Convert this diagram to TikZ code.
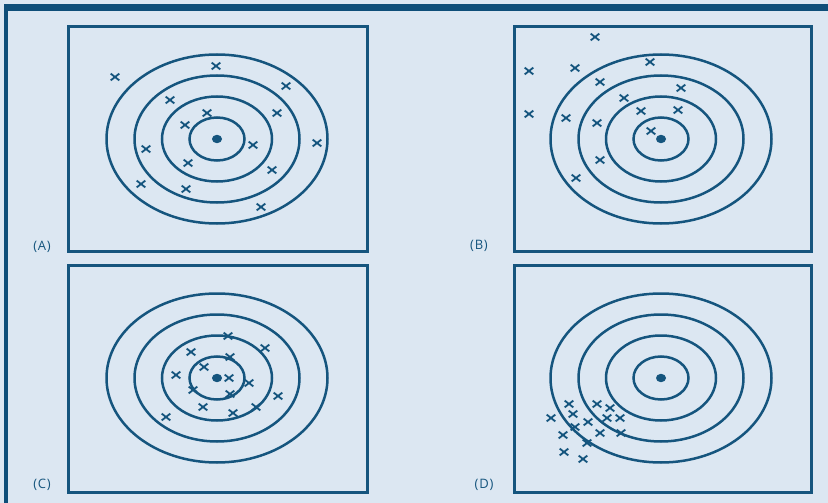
\documentclass[tikz,border=0pt]{standalone}
\usepackage{fontspec}
\setmainfont{Open Sans}
\newfontfamily\lblfont[LetterSpace=6]{Open Sans}
\definecolor{bgblue}{HTML}{DCE7F2}
\definecolor{barblue}{HTML}{0E4E79}
\definecolor{ink}{HTML}{15557E}
\tikzset{
  ring/.style={draw=ink, line width=2.5pt},
  panelbox/.style={draw=ink, line width=3pt},
  crossline/.style={draw=ink, line width=1.8pt},
  lbl/.style={font=\lblfont\fontsize{13}{15}\selectfont, text=ink, inner sep=0pt},
  xmark/.pic={\draw[crossline] (-4.3,-3.4) -- (4.3,3.4) (-4.3,3.4) -- (4.3,-3.4);},
  target/.pic={
    \foreach \a/\b in {27.5/21.5,55/42.5,82.5/63.5,110.5/84.5}
      \draw[ring] (0,0) ellipse [x radius=\a pt, y radius=\b pt];
    \fill[ink] (0,0) ellipse [x radius=5pt, y radius=4.2pt];
  }
}
\begin{document}
\begin{tikzpicture}[x=1pt,y=-1pt]
\useasboundingbox (0,0) rectangle (828,503);
\fill[bgblue] (0,0) rectangle (828,503);
\fill[barblue] (4,4) rectangle (828,11);
\fill[barblue] (4,4) rectangle (8,503);

% panel boxes
\draw[panelbox] (68,27) rectangle (367,251);
\draw[panelbox] (514,27) rectangle (811,251);
\draw[panelbox] (68,265) rectangle (367,492);
\draw[panelbox] (514,265) rectangle (811,492);

% targets
\pic at (217,139) {target};
\pic at (661,139) {target};
\pic at (217,378) {target};
\pic at (661,378) {target};

% labels
\node[lbl] (labA) at (42,247) {(A)};
\node[lbl] (labB) at (479,246) {(B)};
\node[lbl] (labC) at (42,485) {(C)};
\node[lbl] (labD) at (484,485) {(D)};

% shots A
\foreach \x/\y in {115/77,216/66,286/86,170/100,277/113,207/113,185/125,146/149,253/145,317/143,188/163,272/170,141/184,186/189,261/207}
  \pic at (\x,\y) {xmark};
% shots B
\foreach \x/\y in {595/37,529/71,575/68,650/62,600/82,681/88,624/98,641/111,678/110,529/114,566/118,597/123,651/131,600/160,576/178}
  \pic at (\x,\y) {xmark};
% shots C
\foreach \x/\y in {228/336,265/348,191/352,230/357,204/367,176/375,229/378,249/383,193/390,230/394,278/396,203/407,256/407,233/413,166/417}
  \pic at (\x,\y) {xmark};
% shots D
\foreach \x/\y in {569/404,597/404,610/408,551/418,573/414,607/418,620/418,588/422,575/427,563/435,600/433,621/433,587/443,564/452,583/459}
  \pic at (\x,\y) {xmark};
\end{tikzpicture}
\end{document}
